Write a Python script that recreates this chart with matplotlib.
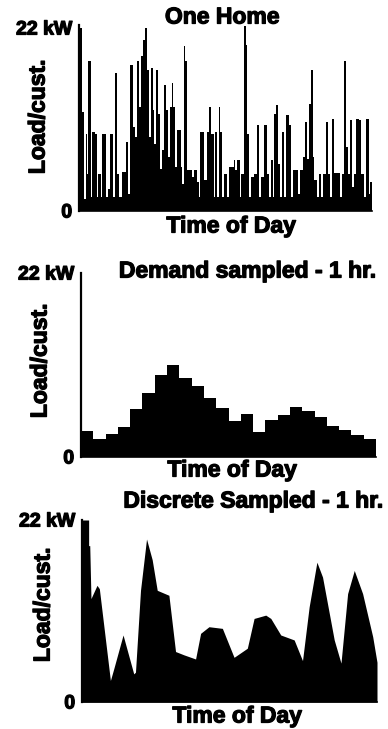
import matplotlib
matplotlib.use("Agg")
import matplotlib.pyplot as plt
import matplotlib.patheffects as pe
import numpy as np

# ---------------- data ----------------
# Panel 1: one home, step series (segment start hour, load kW)
home_start = [0.00, 0.27, 0.41, 0.55, 0.68, 0.77, 0.96, 1.09, 1.31, 1.45, 1.59, 1.78, 1.89,
              2.21, 2.38, 2.54, 2.82, 2.95, 3.14, 3.31, 3.50, 3.85, 3.99, 4.18, 4.46, 4.59,
              4.78, 4.95, 5.08, 5.28, 5.44, 5.60, 5.77, 5.88, 6.04, 6.15, 6.29, 6.51, 6.64,
              6.83, 6.97, 7.13, 7.33, 7.46, 7.60, 7.74, 7.87, 8.01, 8.34, 8.42, 8.56, 8.69,
              8.83, 9.24, 9.38, 9.65, 9.81, 9.95, 10.20, 10.52, 10.63, 10.82, 11.02, 11.15,
              11.29, 11.43, 11.56, 11.70, 11.89, 12.11, 12.25, 12.66, 12.79, 12.98, 13.15,
              13.31, 13.48, 13.69, 13.80, 13.91, 14.08, 14.35, 14.57, 14.73, 14.90, 15.17,
              15.39, 15.55, 15.72, 15.88, 15.99, 16.16, 16.32, 16.48, 16.62, 16.81, 16.98,
              17.17, 17.36, 17.52, 17.96, 18.12, 18.34, 18.53, 18.67, 18.81, 19.00, 19.16,
              19.27, 19.49, 19.63, 19.82, 19.98, 20.20, 20.36, 20.58, 20.75, 20.86, 21.40,
              21.57, 21.68, 21.84, 22.00, 22.17, 22.36, 22.50, 22.72, 22.91, 23.10, 23.32,
              23.54, 23.73, 23.86]
home_kw = [22.0, 11.9, 1.5, 9.3, 4.5, 18.0, 1.7, 9.5, 9.3, 1.7, 4.5, 1.7, 9.3,
           1.7, 2.7, 9.3, 1.7, 16.6, 4.5, 1.7, 4.7, 8.3, 2.1, 17.6, 10.1, 8.9,
           18.0, 12.5, 18.6, 20.6, 22.0, 17.0, 8.9, 17.2, 12.1, 8.1, 17.0, 11.7, 5.1,
           7.3, 15.2, 12.1, 6.5, 12.5, 15.4, 12.5, 5.3, 9.7, 5.3, 3.3, 19.8, 18.0,
           4.9, 4.1, 4.9, 3.5, 1.7, 9.5, 3.7, 9.5, 12.5, 9.3, 1.7, 9.5,
           1.7, 12.5, 9.5, 1.7, 4.5, 1.7, 5.3, 6.1, 4.9, 6.1, 1.7,
           4.5, 22.3, 20.0, 9.3, 1.7, 4.1, 4.5, 10.3, 1.7, 4.1, 10.3,
           4.5, 1.7, 6.1, 1.7, 11.7, 12.7, 5.7, 1.7, 9.5, 1.7, 11.5,
           10.3, 1.7, 4.9, 2.1, 4.9, 6.5, 10.7, 6.3, 12.9, 17.0, 6.5,
           3.7, 1.7, 4.5, 1.7, 4.5, 10.7, 4.5, 1.7, 11.1, 4.6, 1.7,
           4.5, 18.0, 7.7, 4.5, 10.9, 2.9, 4.5, 11.1, 10.9, 4.5, 1.7,
           11.1, 2.1, 3.5]
day_end = 24.0

# Panel 2: demand sampled, 1 hr (hourly averages, kW)
demand_hours = list(range(25))
demand_kw = [3.1, 2.2, 2.7, 3.6, 5.7, 7.6, 9.8, 11.0, 9.5, 8.5, 7.0, 5.9,
             4.3, 5.2, 3.0, 4.4, 5.0, 6.0, 5.5, 4.8, 3.7, 3.2, 2.6, 2.2]

# Panel 3: discrete sampled, 1 hr (hour, kW)
disc_t = [0.00, 0.54, 0.54, 0.63, 0.73, 1.22, 1.41, 2.31, 2.58, 3.34, 4.21, 4.35, 4.76,
          5.25, 5.71, 6.12, 7.07, 7.61, 8.29, 9.24, 9.65, 10.33, 11.42, 12.37, 13.45,
          14.00, 14.95, 15.36, 16.17, 17.26, 17.94, 18.48, 19.11, 19.57, 20.52, 21.07,
          21.61, 22.15, 22.83, 23.65, 24.00]
disc_kw = [22.0, 22.0, 18.9, 18.9, 12.5, 14.1, 13.7, 2.6, 4.0, 8.1, 3.4, 3.6, 13.5,
           19.7, 17.2, 13.5, 12.9, 6.1, 5.7, 5.2, 8.3, 9.1, 8.9, 5.4, 6.5,
           10.1, 10.5, 10.1, 8.1, 7.5, 5.0, 11.5, 16.9, 15.1, 7.5, 4.7,
           13.1, 15.9, 13.1, 7.9, 4.8]

titles = ["One Home", "Demand sampled - 1 hr.", "Discrete Sampled - 1 hr."]
ytick_vals = [0, 22]
ytick_labels = ["0", "22 kW"]
ylabel = "Load/cust."
xlabel = "Time of Day"

# ---------------- figure ----------------
W, H = 388, 729
fig = plt.figure(figsize=(W / 100, H / 100), dpi=100)
plt.rcParams['font.family'] = ['Liberation Sans', 'DejaVu Sans']
plt.rcParams['font.weight'] = 'bold'

heavy = [pe.withStroke(linewidth=0.9, foreground='black')]

def px_axes(left, right, y0, ytop, ymax):
    ppu = (y0 - ytop) / 22.0
    h = ppu * ymax
    return fig.add_axes([left / W, 1 - y0 / H, (right - left) / W, h / H])

axes = [
    px_axes(79, 372, 211, 28, 22.4),
    px_axes(81, 376, 457, 273, 22.0),
    px_axes(82, 377, 702, 520, 22.0),
]
ylims = [22.4, 22.0, 22.0]

edges1 = home_start + [day_end]
axes[0].stairs(home_kw, edges1, fill=True, color='black', linewidth=0)
axes[1].stairs(demand_kw, demand_hours, fill=True, color='black', linewidth=0)
axes[2].fill_between(disc_t, disc_kw, 0, color='black', linewidth=0)

for ax, ym in zip(axes, ylims):
    ax.set_xlim(0, 24)
    ax.set_ylim(0, ym)
    ax.set_xticks([])
    ax.set_yticks(ytick_vals)
    ax.set_yticklabels(ytick_labels, fontsize=14, fontweight='bold')
    for lab in ax.get_yticklabels():
        lab.set_path_effects(heavy)
    ax.tick_params(axis='y', length=0, pad=5)
    for s in ['top', 'right']:
        ax.spines[s].set_visible(False)
    ax.spines['left'].set_linewidth(1.6)
    ax.spines['bottom'].set_linewidth(1.2)
    ax.set_facecolor('none')

def txt(x, y, s, **kw):
    t = fig.text(x / W, 1 - y / H, s, ha='center', va='center', fontweight='bold', **kw)
    t.set_path_effects(heavy)
    return t

# titles
txt(222, 17, titles[0], fontsize=16.5)
txt(247, 271, titles[1], fontsize=16.5)
txt(253, 501, titles[2], fontsize=16.5)

# x labels
for xc, yc in [(231, 226), (232, 470), (237, 716)]:
    txt(xc, yc, xlabel, fontsize=16.5)

# y labels
for xc, yc in [(38, 117), (40, 361), (43, 605)]:
    txt(xc, yc, ylabel, fontsize=16.5, rotation=90)

fig.savefig("out.png", dpi=100)
